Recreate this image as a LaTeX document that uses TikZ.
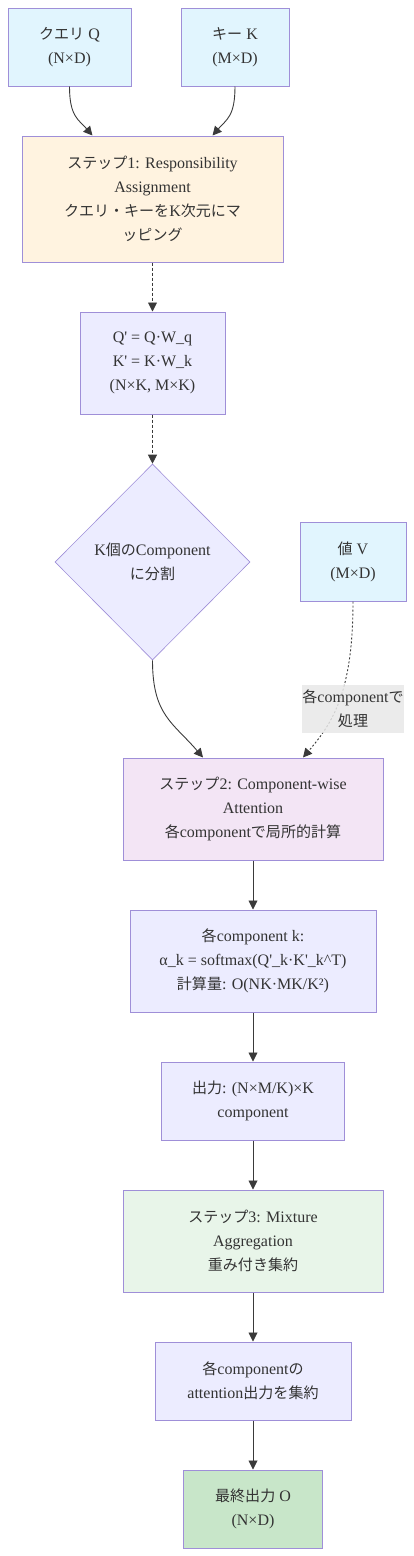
\documentclass[tikz,border=0pt]{standalone}
\usepackage{fontspec}
\setmainfont{Liberation Serif}
\newfontfamily\jpfont{Noto Sans CJK JP}[Scale=0.94]
\newcommand{\ja}[1]{{\jpfont #1}}
\newcommand{\sq}{\textquotesingle}
\usetikzlibrary{arrows.meta,shapes.geometric}

\definecolor{inblue}{HTML}{E1F5FE}
\definecolor{stepone}{HTML}{FFF3E0}
\definecolor{steptwo}{HTML}{F3E5F5}
\definecolor{stepthree}{HTML}{E8F5E9}
\definecolor{finalgreen}{HTML}{C8E6C9}
\definecolor{plainbox}{HTML}{ECECFF}
\definecolor{boxline}{HTML}{9F8FD8}
\definecolor{linkgray}{HTML}{3A3A3A}
\definecolor{lblgray}{HTML}{E8E8E8}

\tikzset{
  box/.style={draw=boxline, line width=1pt, fill=#1, align=center, inner sep=0pt,
    font=\fontsize{16}{24}\selectfont, text=black!80},
  box/.default=plainbox,
  link/.style={draw=linkgray, line width=0.9pt, -{Triangle[length=9pt,width=9pt]}},
  dashlink/.style={link, dash pattern=on 3pt off 2pt},
  dotlink/.style={link, dash pattern=on 2pt off 2pt},
}

\begin{document}
\begin{tikzpicture}[x=1pt,y=-1pt]
  \useasboundingbox (0,0) rectangle (414,1556);

  \node[box=inblue, minimum width=123pt, minimum height=78pt] (q) at (69.5,47) {\ja{クエリ} Q\\(N×D)};
  \node[box=inblue, minimum width=108pt, minimum height=78pt] (k) at (235,47) {\ja{キー} K\\(M×D)};

  \node[box=stepone, minimum width=261pt, minimum height=126pt] (s1) at (152.5,199)
    {\ja{ステップ}1: Responsibility\\Assignment\\\ja{クエリ・キーを}K\ja{次元にマ}\\\ja{ッピング}};

  \node[box, minimum width=145pt, minimum height=102pt] (proj) at (152.5,363)
    {Q\sq{} = Q·W\_q\\K\sq{} = K·W\_k\\(N×K, M×K)};

  \node[box, shape=diamond, minimum width=195pt, minimum height=196pt, line width=0.6pt] (split) at (152.5,562)
    {K\ja{個の}Component\\\ja{に分割}};

  \node[box=inblue, minimum width=106pt, minimum height=79pt] (v) at (353,561.5) {\ja{値} V\\(M×D)};

  \node[box=steptwo, minimum width=260pt, minimum height=102pt] (s2) at (253,809)
    {\ja{ステップ}2: Component-wise\\Attention\\\ja{各}component\ja{で局所的計算}};

  \node[box, minimum width=246pt, minimum height=102pt] (comp) at (253,961)
    {\ja{各}component k:\\α\_k = softmax(Q\sq\_k·K\sq\_k\textasciicircum T)\\\ja{計算量}: O(NK·MK/K²)};

  \node[box, minimum width=183pt, minimum height=78pt] (out) at (253,1101)
    {\ja{出力}: (N×M/K)×K\\component};

  \node[box=stepthree, minimum width=260pt, minimum height=102pt] (s3) at (253,1241)
    {\ja{ステップ}3: Mixture\\Aggregation\\\ja{重み付き集約}};

  \node[box, minimum width=196pt, minimum height=78pt] (agg) at (253,1381)
    {\ja{各}component\ja{の}\\attention\ja{出力を集約}};

  \node[box=finalgreen, minimum width=139pt, minimum height=78pt] (fin) at (253,1509)
    {\ja{最終出力} O\\(N×D)};

  \draw[link] (q.south) .. controls +(0,30) and +(-14,-16) .. ([xshift=-60pt]s1.north);
  \draw[link] (k.south) .. controls +(0,30) and +(14,-16) .. ([xshift=60pt]s1.north);
  \draw[dashlink] (s1.south) -- (proj.north);
  \draw[dashlink] (proj.south) -- (split.north);
  \draw[link] (split.south) .. controls +(0,55) and +(-30,-35) .. ([xshift=-50pt]s2.north);
  \draw[dotlink] (v.south) .. controls +(0,90) and +(30,-35) .. ([xshift=50pt]s2.north);
  \node[fill=lblgray, fill opacity=0.85, text opacity=1, text=black!80, inner sep=0pt,
    minimum width=102pt, minimum height=48pt, align=center,
    font=\fontsize{16}{24}\selectfont] (lbl) at (353,709) {\ja{各}component\ja{で}\\\ja{処理}};
  \draw[link] (s2) -- (comp);
  \draw[link] (comp) -- (out);
  \draw[link] (out) -- (s3);
  \draw[link] (s3) -- (agg);
  \draw[link] (agg) -- (fin);
\end{tikzpicture}
\end{document}
